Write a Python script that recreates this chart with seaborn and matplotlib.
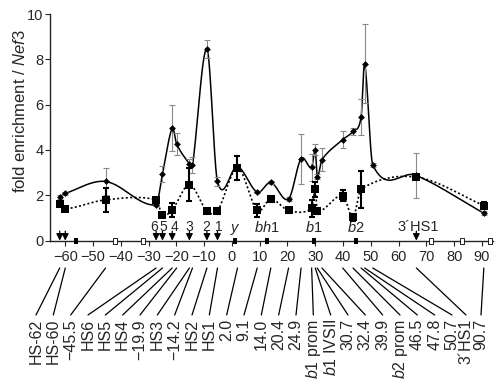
import numpy as np
import pandas as pd
import matplotlib
matplotlib.use("Agg")
import matplotlib.pyplot as plt
from matplotlib.lines import Line2D
import seaborn as sns

sns.set_style("ticks")
plt.rcParams["font.family"] = ["Liberation Sans", "DejaVu Sans"]
plt.rcParams["mathtext.fontset"] = "custom"
plt.rcParams["mathtext.rm"] = "Liberation Sans"
plt.rcParams["mathtext.it"] = "Liberation Sans:italic"

# probes along the locus (kb)
probe_names = ["HS-62", "HS-60", "\u221245.5", "HS6", "HS5", "HS4", "\u221219.9", "HS3",
               "\u221214.2", "HS2", "HS1", "2.0", "9.1", "14.0", "20.4", "24.9",
               "$\\it{b1}$ prom", "$\\it{b1}$ IVSII", "30.7", "32.4", "39.9",
               "$\\it{b2}$ prom", "46.5", "47.8", "50.7", "3\u00b4HS1", "90.7"]
probe_kb = [-62, -60, -45.5, -27.3, -25, -21.5, -19.9, -15.3, -14.2, -9, -5.2, 2.0,
            9.1, 14.0, 20.4, 24.9, 28.7, 30.0, 30.7, 32.4, 39.9, 43.6, 46.5, 47.8,
            50.7, 66.4, 90.7]

# solid line / diamonds
solid_val = [1.92, 2.08, 2.61, 1.58, 2.94, 4.97, 4.26, 3.39, 3.32, 8.45, 2.61, 3.27,
             2.14, 2.57, 1.84, 3.62, 3.23, 4.01, 2.83, 3.57, 4.46, 4.82, 5.44, 7.8,
             3.35, 2.88, 1.21]
solid_err = [0.08, 0.08, 0.6, 0.06, 0.35, 1.0, 0.5, 0.2, 0.35, 0.4, 0.22, 0.12,
             0.05, 0.05, 0.1, 1.1, 0.6, 0.25, 0.1, 0.5, 0.37, 0.17, 0.79, 1.74,
             0.08, 1.0, 0.1]

# dotted line / squares (nan = not measured)
dotted_val = [1.62, 1.4, 1.8, 1.8, 1.14, 1.36, np.nan, 2.46, np.nan, 1.31, 1.31, 3.2,
              1.33, 1.84, 1.33, np.nan, 1.43, 2.27, 1.31, np.nan, 1.99, 1.03, 2.27,
              np.nan, np.nan, 2.8, 1.55]
dotted_err = [0.15, 0.05, 0.52, 0.07, 0.05, 0.3, np.nan, 0.73, np.nan, 0.08, 0.12, 0.54,
              0.3, 0.15, 0.12, np.nan, 0.37, 0.33, 0.12, np.nan, 0.24, 0.15, 0.82,
              np.nan, np.nan, 0.08, 0.15]

# locus map on the axis
hs_kb = [-62, -60, -27.3, -25, -21.5, -15.3, -9, -5.2, 66.4]
hs_names = ["", "", "6", "5", "4", "3", "2", "1", "3\u00b4HS1"]
gene_kb = [-56.1, 1.1, 12.7, 29.6, 44.6]
gene_names = ["", "$\\it{y}$", "$\\it{bh1}$", "$\\it{b1}$", "$\\it{b2}$"]
olf_kb = [-42.1, -31.9, 71.8, 82.8, 92.8]

df = pd.DataFrame({"kb": probe_kb, "solid": solid_val, "solid_err": solid_err,
                   "dotted": dotted_val, "dotted_err": dotted_err})


def smooth(x, y, n=30):
    # cardinal cubic through the points
    x = np.asarray(x, float)
    y = np.asarray(y, float)
    m = np.empty_like(y)
    m[1:-1] = (y[2:] - y[:-2]) / (x[2:] - x[:-2])
    m[0] = (y[1] - y[0]) / (x[1] - x[0])
    m[-1] = (y[-1] - y[-2]) / (x[-1] - x[-2])
    t = np.linspace(0, 1, n, endpoint=False)
    h00 = 2 * t**3 - 3 * t**2 + 1
    h10 = t**3 - 2 * t**2 + t
    h01 = -2 * t**3 + 3 * t**2
    h11 = t**3 - t**2
    xs, ys = [], []
    for i in range(len(x) - 1):
        h = x[i + 1] - x[i]
        xs.append(x[i] + t * h)
        ys.append(h00 * y[i] + h10 * h * m[i] + h01 * y[i + 1] + h11 * h * m[i + 1])
    xs.append([x[-1]])
    ys.append([y[-1]])
    return np.concatenate(xs), np.concatenate(ys)


fig = plt.figure(figsize=(5, 3.9), dpi=100)
ax = fig.add_axes([0.1, 0.383, 0.886, 0.581])

sx, sy = smooth(df.kb, df.solid)
ax.plot(sx, sy, color="k", lw=1.1, zorder=3)
d = df.dropna(subset=["dotted"])
dx, dy = smooth(d.kb, d.dotted)
ax.plot(dx, dy, color="k", lw=1.2, ls=(0, (1.2, 1.4)), zorder=3)

ax.errorbar(df.kb, df.solid, yerr=df.solid_err, fmt="none", ecolor="#8a8a8a",
            elinewidth=0.8, capsize=2.5, capthick=0.8, zorder=4)
ax.errorbar(d.kb, d.dotted, yerr=d.dotted_err, fmt="none", ecolor="k",
            elinewidth=1.5, capsize=2.5, capthick=1.5, zorder=5)
sns.scatterplot(data=df, x="kb", y="solid", marker="D", s=12, color="k",
                linewidth=0, zorder=6, ax=ax)
sns.scatterplot(data=d, x="kb", y="dotted", marker="s", s=30, color="k",
                linewidth=0, zorder=6, ax=ax)

# locus map
box = [(-0.6, -1), (0.6, -1), (0.6, 1), (-0.6, 1), (-0.6, -1)]
ax.scatter(gene_kb, np.zeros(len(gene_kb)), marker=box, s=22, c="k", linewidths=0,
           clip_on=False, zorder=7)
ax.scatter(olf_kb, np.zeros(len(olf_kb)), marker=box, s=18, facecolors="white",
           edgecolors="k", linewidths=0.6, clip_on=False, zorder=7)
# small nudges so the close HS numbers do not collide
hs_text_dx = [0, 0, -0.6, 0.2, 0.8, 0, -0.4, 0.4, 0.6]
for x, name, nx in zip(hs_kb, hs_names, hs_text_dx):
    ax.annotate("", xy=(x, 0), xytext=(x, 0.42), annotation_clip=False,
                arrowprops=dict(arrowstyle="-|>,head_length=0.4,head_width=0.2",
                                color="k", lw=0.9, shrinkA=0, shrinkB=0,
                                mutation_scale=10))
    if name:
        ax.text(x + nx, 0.42, name, ha="center", va="baseline",
                fontsize=10 if len(name) == 1 else 10.5)
for x, name in zip(gene_kb, gene_names):
    if name:
        ax.text(x, 0.38, name, ha="center", va="baseline", fontsize=10.5)

ax.set_xlim(-65.5, 94)
ax.set_ylim(0, 10)
ax.set_xticks(range(-60, 91, 10))
ax.set_yticks(range(0, 11, 2))
ax.tick_params(axis="both", labelsize=10.5, length=3.5, width=0.8)
ax.tick_params(axis="x", pad=3.5)
ax.tick_params(axis="y", pad=1)
ax.set_xlabel("")
ax.set_ylabel("fold enrichment / $\\it{Nef3}$", fontsize=12)
ax.yaxis.set_label_coords(-0.05, 0.57)
sns.despine(ax=ax)
for sp in ax.spines.values():
    sp.set_linewidth(1.0)

# probe names below, joined to their positions
label_px = list(np.linspace(36, 452, 25)) + [466, 481]
inv = fig.transFigure.inverted()
for x, name, lx in zip(probe_kb, probe_names, label_px):
    fx = inv.transform(ax.transData.transform((x, 0)))[0]
    fig.add_artist(Line2D([fx, lx / 500], [(390 - 268) / 390, (390 - 315) / 390],
                          transform=fig.transFigure, color="k", lw=0.9))
    fig.text(lx / 500, (390 - 319) / 390, name, rotation=90, ha="center", va="top",
             fontsize=11.5)

fig.savefig("out.png", dpi=100)
